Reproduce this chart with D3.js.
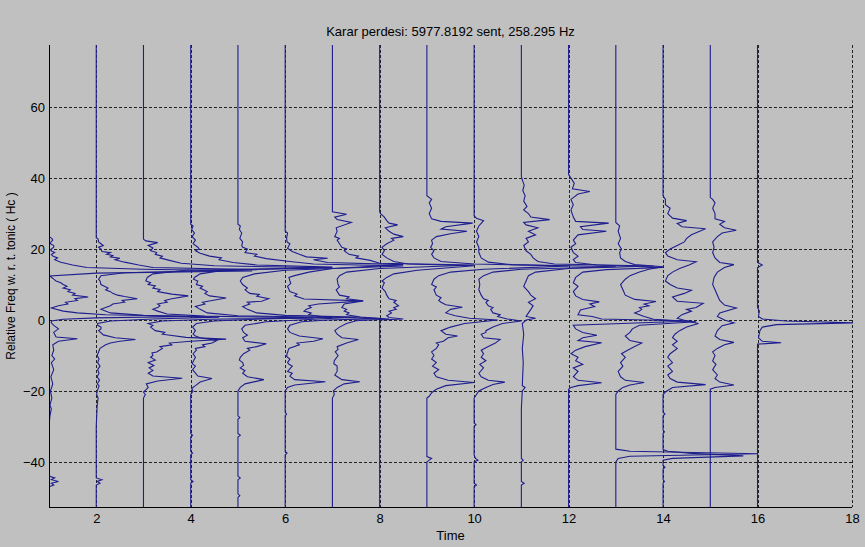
<!DOCTYPE html>
<html>
<head>
<meta charset="utf-8">
<script src="https://cdn.jsdelivr.net/npm/d3@7"></script>
<style>
  html, body { margin: 0; padding: 0; background: #c0c0c0; }
  svg { display: block; font-family: "Liberation Sans", Arial, sans-serif; }
</style>
</head>
<body>
<div id="chart"></div>
<script>
// time index of each profile (vertical baseline)
var times = [1, 2, 3, 4, 5, 6, 7, 8, 9, 10, 11, 12, 13, 14, 15, 16];
var xTicks = [2, 4, 6, 8, 10, 12, 14, 16, 18];
var yTicks = [-40, -20, 0, 20, 40, 60];

// each profile: [pitch (Hc), histogram offset from its baseline], bottom to top
var p1 = [[-53,0],[-47,0],[-46.5,0.1],[-46,0.05],[-45.5,0.2],[-45,0.05],[-44.5,0.12],[-44,0],[-30,0],[-27,0.02],[-25,0.05],[-24,0.02],[-22,0.06],[-20,0.03],[-18,0.08],[-16,0.04],[-14,0.1],[-12,0.05],[-11,0.12],[-10,0.06],[-8.5,0.1],[-7,0.08],[-6,0.2],[-5.3,0.6],[-4.8,0.15],[-3.5,0.1],[-2.5,0.2],[-1.5,0.1],[-0.8,0.05],[-0.3,0.05],[0.2,0.3],[0.6,1.0],[1.0,3.0],[1.5,1.2],[2,0.6],[2.5,0.3],[3.4,0.05],[4,0.2],[4.5,0.4],[5,0.35],[5.5,0.6],[6,0.55],[6.5,0.83],[7,0.5],[7.5,0.55],[8,0.4],[8.5,0.45],[9,0.3],[9.5,0.38],[10,0.3],[10.5,0.25],[11,0.15],[11.5,0.1],[12.4,0.02],[13.2,1.0],[13.8,4.3],[14.3,2.0],[14.8,0.8],[15.5,0.5],[16.3,0.25],[17,0.12],[17.5,0.18],[18,0.08],[18.5,0.05],[19,0.12],[19.5,0.04],[20,0.05],[20.5,0.1],[21,0.1],[21.5,0.03],[22,0.04],[22.5,0.08],[23,0.06],[23.5,0],[78,0]];
var p2 = [[-53,0],[-46.5,0],[-46,0.08],[-45.5,0.02],[-45,0.12],[-44.5,0],[-30,0],[-24,0.02],[-22,0.04],[-21,0.01],[-20,0.02],[-19,0.05],[-18.5,0.06],[-18,0.02],[-17,0.07],[-16,0.02],[-15,0.06],[-14,0.03],[-13,0.08],[-12,0.03],[-11,0.06],[-10,0.02],[-9,0.05],[-8,0.08],[-7,0.2],[-6.5,0.3],[-6,0.5],[-5.5,0.83],[-5,0.4],[-4.2,0.15],[-3,0.05],[-2.5,0.1],[-2,0.1],[-1.5,0.03],[-1,0.03],[-0.3,0.3],[0.3,1.2],[0.8,2.6],[1.3,1.0],[2,0.3],[3,0.1],[3.5,0.2],[4,0.3],[4.5,0.35],[5,0.6],[5.5,0.55],[6,0.87],[6.6,0.6],[7,0.45],[7.5,0.35],[8,0.3],[8.5,0.2],[9,0.25],[10,0.1],[11,0.08],[11.5,0.05],[12.5,0.1],[13.3,0.6],[14.2,3.4],[14.8,1.2],[15.5,0.9],[16.3,0.6],[17,0.4],[17.4,0.5],[17.8,0.3],[18.2,0.35],[18.5,0.22],[19,0.3],[19.3,0.12],[20,0.1],[20.5,0.05],[21,0.15],[21.5,0.1],[22,0.05],[22.8,0.04],[23.2,0],[78,0]];
var p3 = [[-53,0],[-22,0],[-21,0.04],[-20.3,0],[-19.7,0.05],[-19,0.1],[-18,0.06],[-17.2,0.3],[-16.4,0.82],[-15.8,0.2],[-15,0.1],[-14.2,0.2],[-13.5,0.12],[-12.8,0.22],[-12,0.1],[-11.3,0.25],[-10.5,0.15],[-10,0.2],[-9.3,0.18],[-9,0.28],[-8,0.4],[-7.5,0.35],[-7,0.6],[-6.5,0.55],[-6,1.0],[-5.4,1.75],[-4.9,0.9],[-4,0.4],[-3.5,0.45],[-3,0.25],[-2,0.15],[-1.5,0.2],[-1,0.1],[-0.3,0.4],[0.2,1.4],[0.6,3.6],[1.1,1.3],[1.7,0.5],[2.5,0.3],[3,0.2],[3.5,0.3],[4,0.35],[4.5,0.3],[5,0.5],[5.5,0.45],[6,0.6],[6.8,0.95],[7.3,0.6],[8,0.3],[8.6,0.35],[9,0.2],[9.6,0.25],[10,0.1],[10.5,0.15],[11,0.05],[12,0.08],[13,0.2],[14,0.9],[14.7,4.0],[15.3,1.5],[16,0.8],[16.8,0.55],[17.5,0.35],[18,0.4],[18.5,0.25],[19,0.28],[19.5,0.15],[20.3,0.2],[21,0.1],[21.8,0.3],[22.3,0.05],[22.8,0],[78,0]];
var p4 = [[-53,0],[-46,0],[-45.5,0.05],[-45,0],[-38,0],[-37.5,0.04],[-37,0],[-33,0],[-32.5,0.04],[-32,0],[-21,0],[-20,0.05],[-19.3,0.02],[-18.5,0.1],[-17.5,0.2],[-16.5,0.45],[-15.8,0.15],[-15,0.1],[-14,0.04],[-13,0.1],[-12.3,0.03],[-11.5,0.06],[-10.5,0.1],[-9.5,0.05],[-8.5,0.12],[-8,0.1],[-7.5,0.3],[-7,0.25],[-6.5,0.45],[-5.8,0.55],[-5,0.2],[-4.5,0.1],[-4,0.05],[-3,0.1],[-2,0.04],[-1,0.12],[-0.3,0.5],[0.3,1.5],[0.7,3.0],[1.2,1.0],[2,0.35],[3,0.2],[3.8,0.1],[4.5,0.3],[5,0.25],[5.5,0.45],[6.2,0.75],[6.8,0.4],[7.5,0.3],[8,0.35],[9,0.2],[9.5,0.25],[10,0.12],[11,0.15],[11.5,0.06],[12,0.08],[13,0.2],[14,0.7],[14.9,3.0],[15.5,1.4],[16.2,0.9],[17,0.6],[17.5,0.65],[18,0.4],[18.8,0.2],[19.5,0.1],[20,0.18],[20.5,0.15],[21.5,0.05],[22.5,0.1],[23.5,0.03],[24.5,0.08],[25.5,0.02],[26.5,0.05],[27,0],[78,0]];
var p5 = [[-53,0],[-50,0],[-49.5,0.04],[-49,0],[-45,0],[-44.5,0.05],[-44,0],[-33,0],[-32.5,0.05],[-32,0],[-28,0],[-27.5,0.04],[-27,0],[-20,0],[-19,0.05],[-18,0.15],[-16.8,0.55],[-16,0.2],[-15,0.1],[-14.3,0.15],[-13.5,0.05],[-12.8,0.12],[-12,0.1],[-11.3,0.03],[-10.5,0.05],[-9.5,0.12],[-8.5,0.25],[-8,0.2],[-7.5,0.4],[-6.7,0.6],[-6,0.15],[-5,0.1],[-4.3,0.2],[-3.5,0.12],[-2.5,0.08],[-1.5,0.15],[-0.5,0.6],[0.2,1.6],[0.8,2.5],[1.3,1.0],[2,0.4],[3,0.2],[3.8,0.1],[4.5,0.25],[5,0.2],[5.3,0.5],[6,0.65],[6.7,0.4],[7.2,0.45],[7.5,0.25],[8.5,0.15],[9,0.2],[10,0.1],[11,0.05],[12,0.1],[13,0.35],[14,1.0],[15.2,3.5],[15.8,1.6],[16.5,1.1],[17.3,0.6],[18,0.35],[18.5,0.4],[19,0.15],[20,0.2],[20.5,0.1],[21,0.08],[22,0.1],[23,0.04],[24.5,0.08],[25.5,0.03],[26.5,0.05],[27,0],[78,0]];
var p6 = [[-53,0],[-38,0],[-37.5,0.04],[-37,0],[-27,0],[-26.5,0.03],[-26,0],[-20,0],[-19,0.05],[-18.3,0.2],[-17.4,0.85],[-16.8,0.2],[-15.8,0.1],[-15,0.15],[-14.5,0.05],[-13,0.15],[-12.5,0.08],[-12,0.05],[-11,0.1],[-10.3,0.03],[-9.5,0.04],[-8,0.08],[-7,0.3],[-6.5,0.25],[-6,0.6],[-5.3,0.8],[-4.5,0.3],[-3.5,0.1],[-2.5,0.05],[-1.5,0.1],[-0.5,0.35],[0,0.9],[0.4,2.0],[0.9,0.8],[1.5,0.5],[2,0.55],[2.5,0.4],[3,0.45],[3.5,0.55],[4,0.5],[4.5,0.7],[5.4,1.65],[5.9,0.4],[6.8,0.2],[7.3,0.25],[8,0.1],[9.5,0.05],[10.3,0.12],[11,0.1],[12,0.08],[12.5,0.2],[13.5,0.5],[14.5,1.0],[15.6,2.5],[16.2,0.9],[17,0.6],[17.4,0.9],[17.8,0.45],[18.5,0.3],[19.3,0.15],[20.2,0.05],[21.5,0.1],[22,0.04],[23,0.03],[24.5,0.05],[25,0],[78,0]];
var p7 = [[-53,0],[-22,0],[-21,0.04],[-20,0.02],[-19,0.1],[-18,0.25],[-17.4,0.58],[-16.8,0.2],[-15.5,0.05],[-14.5,0.1],[-13,0.1],[-12.3,0.03],[-11.5,0.04],[-10,0.12],[-9,0.06],[-8.3,0.12],[-7.5,0.1],[-6.5,0.3],[-5.5,0.55],[-5,0.2],[-4,0.1],[-3,0.05],[-2,0.15],[-1,0.3],[-0.2,0.5],[0.3,1.2],[0.8,0.6],[1.5,0.3],[2,0.35],[2.5,0.25],[3,0.3],[3.5,0.2],[4.5,0.25],[5.4,0.65],[6,0.3],[6.5,0.35],[7,0.15],[8.5,0.08],[9.3,0.15],[10,0.12],[11.5,0.1],[12.5,0.15],[13.5,0.3],[14.5,1.0],[15.5,3.0],[16,1.0],[16.8,0.8],[17.5,0.5],[18,0.55],[18.5,0.35],[19.5,0.25],[20,0.3],[20.5,0.2],[21.5,0.15],[22.5,0.1],[23,0.15],[23.5,0.05],[25,0.1],[26,0.08],[27.5,0.4],[28.3,0.1],[29,0.05],[29.8,0.3],[30.5,0],[78,0]];
var p8 = [[-53,0],[0,0],[0.3,0.5],[0.7,0.2],[1.2,0.15],[2,0.25],[2.5,0.2],[3,0.35],[3.5,0.3],[4,0.4],[5,0.3],[5.5,0.35],[6,0.2],[7,0.15],[8,0.12],[9,0.05],[10.5,0.1],[11,0.05],[12,0.15],[13,0.3],[14,0.8],[15.3,2.0],[15.8,0.6],[16.5,0.3],[17.5,0.15],[18.5,0.05],[19.5,0.1],[20.5,0.05],[21.5,0.15],[22.5,0.3],[23,0.25],[23.5,0.5],[24.2,0.3],[25,0.2],[26,0.12],[26.8,0.38],[27.3,0.2],[28,0.15],[29,0.1],[30,0.02],[30.5,0],[78,0]];
var p9 = [[-53,0],[-40,0],[-39.5,0.05],[-39,0.1],[-38.5,0],[-22,0],[-21.5,0.05],[-20.5,0.1],[-19.5,0.2],[-18.5,0.4],[-17.6,1.0],[-17,0.45],[-16,0.2],[-15,0.15],[-14,0.25],[-13,0.12],[-12,0.2],[-11,0.1],[-10,0.15],[-9,0.1],[-8,0.2],[-7,0.25],[-6.5,0.2],[-6,0.35],[-5,0.45],[-4.5,0.65],[-4,0.4],[-3,0.3],[-2.5,0.4],[-2,0.5],[-1,0.8],[0,1.5],[0.5,0.9],[1.2,0.6],[2,0.4],[2.5,0.45],[3,0.5],[3.6,0.75],[4.3,0.4],[5,0.3],[5.5,0.25],[6.3,0.3],[7,0.2],[8.5,0.15],[9.3,0.2],[10,0.1],[11.5,0.15],[12.5,0.25],[13.5,0.5],[14.3,1.2],[15.2,3.0],[15.8,1.0],[16.5,0.3],[17.5,0.15],[18.5,0.1],[19.5,0.15],[20.5,0.08],[21.5,0.12],[22.5,0.1],[23.5,0.2],[24.3,0.5],[25,0.85],[25.6,0.3],[26.3,0.4],[27.3,0.97],[27.8,0.3],[28.5,0.1],[30,0.05],[31.5,0.1],[33,0.05],[34,0.1],[35,0],[78,0]];
var p10 = [[-53,0],[-47,0],[-46.5,0.05],[-46,0],[-40,0],[-39.5,0.08],[-39,0.03],[-38,0],[-30,0],[-29.5,0.04],[-29,0],[-22,0],[-21,0.05],[-20,0.1],[-19,0.25],[-18.2,0.4],[-17.5,0.65],[-17,0.3],[-16,0.15],[-15,0.1],[-13.5,0.2],[-12.5,0.12],[-11.5,0.25],[-10.5,0.15],[-9.5,0.2],[-8.5,0.15],[-7.5,0.3],[-6.5,0.45],[-5.5,0.55],[-5,0.2],[-4,0.15],[-3.5,0.25],[-3,0.25],[-2,0.4],[-1,0.6],[-0.3,1.0],[0.3,0.7],[1,0.5],[1.5,0.55],[2,0.4],[3,0.35],[3.5,0.4],[4,0.3],[5,0.25],[5.5,0.3],[6,0.2],[7,0.15],[8.5,0.1],[10,0.12],[11.5,0.1],[12.5,0.2],[13.5,0.4],[14.3,1.0],[15,3.0],[15.6,0.8],[16.3,0.3],[17.5,0.15],[19,0.1],[20.5,0.1],[22,0.05],[23.5,0.1],[25,0.05],[26.5,0.1],[28,0.2],[28.7,0.05],[29.3,0],[78,0]];
var p11 = [[-53,0],[-46.5,0],[-46,0.06],[-45.5,0],[-40,0],[-39.5,0.04],[-39,0],[-25,0],[-20,0.02],[-19,0.08],[-18.5,0.02],[-12,0.04],[-8,0.02],[-4,0.05],[-1,0.02],[0,0.1],[0.5,0.3],[1,0.1],[2,0.15],[3,0.2],[4,0.25],[5,0.15],[6,0.3],[7,0.2],[8,0.15],[9.5,0.05],[11,0.1],[12.5,0.15],[13.5,0.3],[14.5,1.0],[15.2,2.8],[15.8,0.7],[16.5,0.35],[17.5,0.25],[18.5,0.2],[19.5,0.1],[21,0.05],[22,0.15],[23,0.1],[24,0.3],[25,0.15],[26,0.35],[26.8,0.1],[27.5,0.05],[28.3,0.6],[29,0.2],[30,0.15],[31,0.05],[32,0.12],[33.5,0.05],[35,0.08],[36.5,0.03],[38,0.06],[39.5,0.02],[40.5,0],[78,0]];
var p12 = [[-53,0],[-19.5,0],[-19,0.05],[-18.5,0.2],[-17.7,0.7],[-17,0.2],[-16,0.1],[-14.5,0.2],[-13.5,0.1],[-12.5,0.3],[-11.5,0.15],[-10.5,0.2],[-9.5,0.05],[-8.5,0.15],[-7.5,0.35],[-6.4,0.7],[-5.8,0.2],[-5,0.3],[-4.3,0.6],[-3.5,0.3],[-2.5,0.15],[-1.5,0.1],[-0.3,2.6],[0.3,0.7],[1,0.5],[1.5,0.2],[2.8,0.25],[3.3,0.4],[3.8,0.55],[4.5,0.45],[5.1,0.65],[5.8,0.3],[6.8,0.15],[8,0.1],[9.5,0.2],[10.5,0.1],[12,0.15],[13.5,0.3],[14.2,0.8],[14.8,2.0],[15.5,0.6],[16.2,0.15],[17,0.1],[18,0.2],[19,0.1],[20.5,0.05],[21.5,0.15],[22.5,0.1],[24,0.2],[25,0.8],[25.5,0.3],[26.3,0.25],[27.3,0.85],[27.8,0.15],[29,0.1],[31,0.05],[32.5,0.1],[34,0.05],[35.5,0.2],[36.2,0.45],[37,0.08],[38.5,0.12],[40,0.05],[41,0],[78,0]];
var p13 = [[-53,0],[-40,0],[-39,0.05],[-38.4,0.3],[-37.7,3.0],[-37,0.3],[-36.4,0],[-21,0],[-20,0.05],[-19,0.15],[-18.3,0.3],[-17.6,0.6],[-17,0.2],[-16,0.1],[-14.5,0.05],[-13,0.15],[-12,0.1],[-10.5,0.2],[-9.5,0.12],[-8.5,0.25],[-7.5,0.4],[-6.5,0.55],[-5.8,0.3],[-4.5,0.2],[-3.5,0.3],[-2.5,0.35],[-1.5,0.5],[-0.5,1.7],[0.2,0.8],[1,0.6],[2,0.4],[2.5,0.5],[3,0.55],[3.5,0.5],[4,0.7],[4.5,0.6],[5.2,0.85],[5.8,0.4],[7,0.2],[8.5,0.15],[10,0.1],[11.5,0.2],[12.5,0.3],[13.5,0.5],[14.3,0.7],[15,1.0],[15.6,0.4],[16.5,0.2],[17.5,0.1],[19,0.08],[20,0.12],[21.5,0.05],[23,0.1],[25,0.05],[26.5,0.08],[27.5,0],[78,0]];
var p14 = [[-53,0],[-46,0],[-45.5,0.03],[-45,0],[-42,0],[-41.5,0.04],[-41,0],[-39.5,0],[-39,0.2],[-38.3,1.7],[-37.6,0.6],[-37,0.1],[-36.5,0],[-32,0],[-31.5,0.03],[-31,0],[-27,0],[-26.5,0.04],[-26,0],[-21,0],[-20.3,0.05],[-19,0.2],[-18.2,0.9],[-17.5,0.3],[-16.5,0.15],[-15.5,0.1],[-14.5,0.2],[-13,0.1],[-12,0.2],[-10.5,0.1],[-9.5,0.15],[-8,0.3],[-7,0.2],[-6,0.3],[-5,0.2],[-4,0.25],[-3,0.35],[-2,0.5],[-1,0.75],[-0.3,0.5],[0.5,0.3],[1.5,0.4],[2.5,0.6],[3,0.5],[3.5,0.7],[4.7,0.85],[5.3,0.3],[6.5,0.2],[7.5,0.45],[8.4,0.6],[9,0.3],[10,0.15],[11,0.05],[12.5,0.1],[13.5,0.2],[14.5,0.35],[15.5,0.55],[16.4,0.7],[17,0.3],[18,0.1],[19,0.05],[20,0.15],[21,0.3],[22,0.45],[23,0.5],[24,0.6],[25.7,0.9],[26.3,0.4],[27.2,0.3],[28,0.5],[28.7,0.2],[30,0.1],[31.5,0.15],[32.5,0.05],[34,0.05],[35,0],[78,0]];
var p15 = [[-53,0],[-19.5,0],[-19,0.1],[-18.3,0.5],[-17.5,0.2],[-16.5,0.1],[-15.5,0.15],[-14,0.05],[-12.5,0.12],[-11.5,0.05],[-10,0.1],[-9,0.05],[-8,0.15],[-7,0.3],[-6.3,0.5],[-5.5,0.2],[-4.5,0.1],[-3,0.15],[-1.6,0.25],[-0.8,0.5],[0,0.3],[1,0.15],[2,0.2],[3.4,0.55],[4.2,0.3],[5.5,0.2],[7,0.15],[8.5,0.1],[10,0.05],[12,0.08],[13.5,0.15],[14.8,0.3],[15.6,0.5],[16.2,0.2],[17.5,0.1],[19,0.05],[20.5,0.08],[22,0.05],[23.5,0.15],[24.5,0.25],[25.3,0.55],[26,0.3],[27,0.2],[27.8,0.3],[28.5,0.1],[30,0.1],[31.5,0.05],[33,0.1],[34,0.05],[34.5,0],[78,0]];
var p16 = [[-53,0],[-6.8,0],[-6.4,0.5],[-6,0.1],[-5,0.02],[-3,0.05],[-2,0.1],[-1.3,0.4],[-0.8,2.05],[-0.3,0.6],[0.3,0.1],[1,0.02],[2.5,0.04],[3.5,0],[14.8,0],[15.5,0.1],[16.2,0],[78,0]];
var profiles = [p1, p2, p3, p4, p5, p6, p7, p8, p9, p10, p11, p12, p13, p14, p15, p16];

var titleText = 'Karar perdesi: 5977.8192 sent, 258.295 Hz';

var svg_width = 865;
var svg_height = 547;
var margin = { top: 45, right: 13, bottom: 40, left: 49 };
var chart_width = svg_width - margin.left - margin.right;
var chart_height = svg_height - margin.top - margin.bottom;

var svg = d3.select('#chart').append('svg')
    .attr('width', svg_width)
    .attr('height', svg_height)
    .style('background-color', '#c0c0c0');

var x = d3.scaleLinear().domain([1, 18]).range([0, chart_width]);
var y = d3.scaleLinear().domain([-52.7, 77.5]).range([chart_height, 0]);

var g = svg.append('g')
    .attr('transform', 'translate(' + margin.left + ',' + margin.top + ')');

svg.append('defs').append('clipPath').attr('id', 'plot-clip')
    .append('rect').attr('width', chart_width + 1).attr('height', chart_height);

// dotted grid
g.append('g').selectAll('line.hgrid')
    .data(yTicks).enter().append('line')
    .attr('x1', 0).attr('x2', chart_width)
    .attr('y1', function(d) { return Math.round(y(d)) + 0.5; })
    .attr('y2', function(d) { return Math.round(y(d)) + 0.5; })
    .attr('stroke', '#222').attr('stroke-dasharray', '3,2');
g.append('g').selectAll('line.vgrid')
    .data(xTicks).enter().append('line')
    .attr('x1', function(d) { return Math.round(x(d)) + 0.5; })
    .attr('x2', function(d) { return Math.round(x(d)) + 0.5; })
    .attr('y1', 0).attr('y2', chart_height)
    .attr('stroke', '#222').attr('stroke-dasharray', '3,2');

// profiles
var line = d3.line()
    .x(function(d) { return x(d.t + d.v); })
    .y(function(d) { return y(d.p); });

g.append('g').attr('clip-path', 'url(#plot-clip)')
    .selectAll('path')
    .data(profiles.map(function(prof, i) {
        return prof.map(function(pt) { return { t: times[i], p: pt[0], v: pt[1] }; });
    }))
    .enter().append('path')
    .attr('d', line)
    .attr('fill', 'none')
    .attr('stroke', '#1e1e8e')
    .attr('stroke-width', 1.1);

// axes
var xAxis = g.append('g')
    .attr('transform', 'translate(0,' + chart_height + ')')
    .call(d3.axisBottom(x).tickValues(xTicks).tickSize(0).tickPadding(7).tickFormat(d3.format('d')));
var yAxis = g.append('g')
    .call(d3.axisLeft(y).tickValues(yTicks).tickSize(0).tickPadding(4).tickFormat(d3.format('d')));
[xAxis, yAxis].forEach(function(a) {
    a.selectAll('text').attr('font-size', 13).attr('fill', '#000')
        .style('font-family', '"Liberation Sans", Arial, sans-serif');
    a.select('.domain').attr('stroke', '#000');
});
yAxis.select('.domain').attr('d', 'M0.5,' + chart_height + 'V0');
xAxis.select('.domain').attr('d', 'M0,0.5H' + chart_width);

svg.append('text')
    .attr('x', margin.left + chart_width / 2).attr('y', 36)
    .attr('text-anchor', 'middle').attr('font-size', 13)
    .text(titleText);
svg.append('text')
    .attr('x', margin.left + chart_width / 2).attr('y', 540)
    .attr('text-anchor', 'middle').attr('font-size', 13)
    .text('Time');
svg.append('text')
    .attr('transform', 'translate(15,' + (margin.top + chart_height / 2) + ') rotate(-90)')
    .attr('text-anchor', 'middle').attr('font-size', 12)
    .text('Relative Freq w. r. t. tonic ( Hc )');
</script>
</body>
</html>
